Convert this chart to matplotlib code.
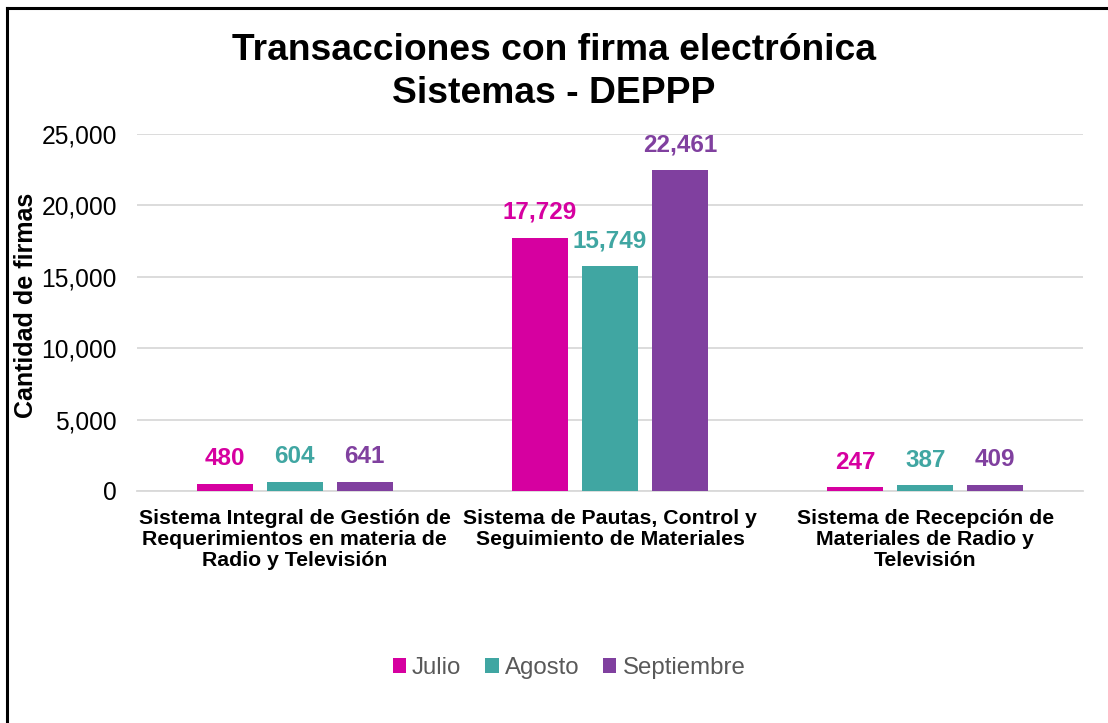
import matplotlib
matplotlib.use("Agg")
import matplotlib.pyplot as plt
import numpy as np
from matplotlib.lines import Line2D

categories = ["Sistema Integral de Gestión de\nRequerimientos en materia de\nRadio y Televisión",
              "Sistema de Pautas, Control y\nSeguimiento de Materiales",
              "Sistema de Recepción de\nMateriales de Radio y\nTelevisión"]
series_names = ["Julio", "Agosto", "Septiembre"]
julio = [480, 17729, 247]
agosto = [604, 15749, 387]
septiembre = [641, 22461, 409]
colors = ["#D600A0", "#40A6A2", "#80409F"]
yticks = [0, 5000, 10000, 15000, 20000, 25000]

plt.rcParams['font.family'] = ['Liberation Sans', 'DejaVu Sans']

W, H = 1108, 723
fig = plt.figure(figsize=(W/100, H/100), dpi=100)
ax = fig.add_axes([137/W, 1-491/H, (1083-137)/W, (491-134)/H])

x = np.arange(len(categories))
bw = 0.177
step = 0.222
for i, (name, vals, c) in enumerate(zip(series_names, [julio, agosto, septiembre], colors)):
    pos = x + (i-1)*step
    ax.bar(pos, vals, width=bw, color=c, label=name, zorder=3)
    for p, v in zip(pos, vals):
        ax.annotate(f"{v:,}", (p, v), xytext=(0, 10), textcoords="offset points",
                    ha="center", va="bottom", fontsize=17.5, fontweight="bold", color=c)

ax.set_xlim(-0.5, 2.5)
ax.set_ylim(0, 25000)
ax.set_yticks(yticks)
ax.set_yticklabels([f"{t:,}" for t in yticks], fontsize=17.7)
ax.set_xticks(x)
ax.set_xticklabels(categories, fontsize=15.3, fontweight="bold", linespacing=1.12)
ax.tick_params(axis="x", length=0, pad=13)
ax.tick_params(axis="y", length=0, pad=14.5)
ax.grid(axis="y", color="#D9D9D9", linewidth=1.3, zorder=0)
for s in ["top", "right", "left"]:
    ax.spines[s].set_visible(False)
ax.spines["bottom"].set_color("#D9D9D9")
ax.spines["bottom"].set_linewidth(1.3)
ax.set_ylabel("Cantidad de firmas", fontsize=18, fontweight="bold")
ax.yaxis.set_label_coords((26-137)/(1083-137), 0.52)
ax.yaxis.label.set_va("center")

fig.text(0.5, 1-72/H, "Transacciones con firma electrónica\nSistemas - DEPPP", ha="center", va="center",
         fontsize=26.8, fontweight="bold", linespacing=1.28)

leg = fig.legend(loc="center", bbox_to_anchor=(569/W, 1-668/H), ncol=3, frameon=False,
                 fontsize=17.3, handlelength=0.55, handleheight=0.55, handletextpad=0.25, columnspacing=1.0)
for t in leg.get_texts():
    t.set_color("#595959")

fig.add_artist(Line2D([6.5/W, 1.0], [1-7.5/H, 1-7.5/H], transform=fig.transFigure, color="black", linewidth=2.2))
fig.add_artist(Line2D([6.5/W, 6.5/W], [0, 1-7.5/H], transform=fig.transFigure, color="black", linewidth=2.2))

fig.savefig("out.png", dpi=100)
